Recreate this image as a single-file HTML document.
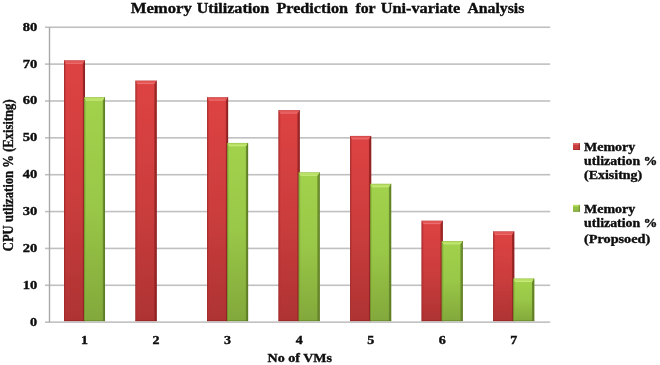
<!DOCTYPE html>
<html><head><meta charset="utf-8"><title>Memory Utilization Prediction</title>
<style>html,body{margin:0;padding:0;background:#fff}svg{display:block}</style></head>
<body>
<svg width="660" height="365" viewBox="0 0 660 365">
<defs>
<linearGradient id="gr" x1="0" y1="0" x2="0" y2="1"><stop offset="0" stop-color="#de4343"/><stop offset="0.5" stop-color="#cc3d3d"/><stop offset="1" stop-color="#ae3333"/></linearGradient>
<linearGradient id="gg" x1="0" y1="0" x2="0" y2="1"><stop offset="0" stop-color="#a2d24d"/><stop offset="0.5" stop-color="#99c747"/><stop offset="1" stop-color="#82a83b"/></linearGradient>
<filter id="bl" x="-5%" y="-5%" width="110%" height="110%"><feGaussianBlur stdDeviation="0.45"/></filter>
<filter id="bt" x="-5%" y="-20%" width="110%" height="140%"><feGaussianBlur stdDeviation="0.3"/></filter>
</defs>
<rect width="660" height="365" fill="#fff"/>
<g filter="url(#bl)">
<rect x="45" y="321.35" width="505.20" height="1.6" fill="#c0c0c0"/>
<rect x="45" y="284.49" width="505.20" height="1.6" fill="#c0c0c0"/>
<rect x="45" y="247.62" width="505.20" height="1.6" fill="#c0c0c0"/>
<rect x="45" y="210.76" width="505.20" height="1.6" fill="#c0c0c0"/>
<rect x="45" y="173.90" width="505.20" height="1.6" fill="#c0c0c0"/>
<rect x="45" y="137.04" width="505.20" height="1.6" fill="#c0c0c0"/>
<rect x="45" y="100.18" width="505.20" height="1.6" fill="#c0c0c0"/>
<rect x="45" y="63.31" width="505.20" height="1.6" fill="#c0c0c0"/>
<rect x="45" y="26.45" width="505.20" height="1.6" fill="#c0c0c0"/>
<rect x="48.80" y="27.20" width="1.4" height="294.90" fill="#a8a8a8"/>
<rect x="64.01" y="60.38" width="21.0" height="260.72" fill="url(#gr)"/>
<polygon points="64.01,60.38 65.71,63.68 65.71,321.10 64.01,321.10" fill="#b83030" opacity="0.6"/>
<polygon points="85.01,60.38 82.81,63.68 82.81,321.10 85.01,321.10" fill="#8e2222" opacity="0.8"/>
<polygon points="64.01,60.38 85.01,60.38 82.81,63.68 65.71,63.68" fill="#ef7474" opacity="0.42"/>
<rect x="65.71" y="62.88" width="17.10" height="0.9" fill="#f58d8d" opacity="0.55"/>
<rect x="64.01" y="60.38" width="0.5" height="260.72" fill="#7e1c1c" opacity="0.7"/>
<rect x="84.41" y="60.38" width="0.6" height="260.72" fill="#7e1c1c" opacity="0.8"/>
<rect x="64.01" y="320.40" width="21.0" height="0.7" fill="#7e1c1c" opacity="0.6"/>
<rect x="64.01" y="60.38" width="21.0" height="0.5" fill="#7e1c1c" opacity="0.35"/>
<rect x="84.11" y="97.24" width="20.9" height="223.86" fill="url(#gg)"/>
<polygon points="84.11,97.24 85.81,100.54 85.81,321.10 84.11,321.10" fill="#86b23a" opacity="0.6"/>
<polygon points="105.01,97.24 102.81,100.54 102.81,321.10 105.01,321.10" fill="#5e7c25" opacity="0.8"/>
<polygon points="84.11,97.24 105.01,97.24 102.81,100.54 85.81,100.54" fill="#c6ea74" opacity="0.62"/>
<rect x="85.81" y="99.74" width="17.00" height="0.9" fill="#d6f28e" opacity="0.55"/>
<rect x="84.11" y="97.24" width="0.5" height="223.86" fill="#56721f" opacity="0.7"/>
<rect x="104.41" y="97.24" width="0.6" height="223.86" fill="#56721f" opacity="0.8"/>
<rect x="84.11" y="320.40" width="20.9" height="0.7" fill="#56721f" opacity="0.6"/>
<rect x="84.11" y="97.24" width="20.9" height="0.5" fill="#56721f" opacity="0.35"/>
<rect x="135.54" y="80.65" width="21.0" height="240.45" fill="url(#gr)"/>
<polygon points="135.54,80.65 137.24,83.95 137.24,321.10 135.54,321.10" fill="#b83030" opacity="0.6"/>
<polygon points="156.54,80.65 154.34,83.95 154.34,321.10 156.54,321.10" fill="#8e2222" opacity="0.8"/>
<polygon points="135.54,80.65 156.54,80.65 154.34,83.95 137.24,83.95" fill="#ef7474" opacity="0.42"/>
<rect x="137.24" y="83.15" width="17.10" height="0.9" fill="#f58d8d" opacity="0.55"/>
<rect x="135.54" y="80.65" width="0.5" height="240.45" fill="#7e1c1c" opacity="0.7"/>
<rect x="155.94" y="80.65" width="0.6" height="240.45" fill="#7e1c1c" opacity="0.8"/>
<rect x="135.54" y="320.40" width="21.0" height="0.7" fill="#7e1c1c" opacity="0.6"/>
<rect x="135.54" y="80.65" width="21.0" height="0.5" fill="#7e1c1c" opacity="0.35"/>
<rect x="207.07" y="97.24" width="21.0" height="223.86" fill="url(#gr)"/>
<polygon points="207.07,97.24 208.77,100.54 208.77,321.10 207.07,321.10" fill="#b83030" opacity="0.6"/>
<polygon points="228.07,97.24 225.87,100.54 225.87,321.10 228.07,321.10" fill="#8e2222" opacity="0.8"/>
<polygon points="207.07,97.24 228.07,97.24 225.87,100.54 208.77,100.54" fill="#ef7474" opacity="0.42"/>
<rect x="208.77" y="99.74" width="17.10" height="0.9" fill="#f58d8d" opacity="0.55"/>
<rect x="207.07" y="97.24" width="0.5" height="223.86" fill="#7e1c1c" opacity="0.7"/>
<rect x="227.47" y="97.24" width="0.6" height="223.86" fill="#7e1c1c" opacity="0.8"/>
<rect x="207.07" y="320.40" width="21.0" height="0.7" fill="#7e1c1c" opacity="0.6"/>
<rect x="207.07" y="97.24" width="21.0" height="0.5" fill="#7e1c1c" opacity="0.35"/>
<rect x="227.17" y="142.95" width="20.9" height="178.15" fill="url(#gg)"/>
<polygon points="227.17,142.95 228.87,146.25 228.87,321.10 227.17,321.10" fill="#86b23a" opacity="0.6"/>
<polygon points="248.07,142.95 245.87,146.25 245.87,321.10 248.07,321.10" fill="#5e7c25" opacity="0.8"/>
<polygon points="227.17,142.95 248.07,142.95 245.87,146.25 228.87,146.25" fill="#c6ea74" opacity="0.62"/>
<rect x="228.87" y="145.45" width="17.00" height="0.9" fill="#d6f28e" opacity="0.55"/>
<rect x="227.17" y="142.95" width="0.5" height="178.15" fill="#56721f" opacity="0.7"/>
<rect x="247.47" y="142.95" width="0.6" height="178.15" fill="#56721f" opacity="0.8"/>
<rect x="227.17" y="320.40" width="20.9" height="0.7" fill="#56721f" opacity="0.6"/>
<rect x="227.17" y="142.95" width="20.9" height="0.5" fill="#56721f" opacity="0.35"/>
<rect x="278.60" y="110.14" width="21.0" height="210.96" fill="url(#gr)"/>
<polygon points="278.60,110.14 280.30,113.44 280.30,321.10 278.60,321.10" fill="#b83030" opacity="0.6"/>
<polygon points="299.60,110.14 297.40,113.44 297.40,321.10 299.60,321.10" fill="#8e2222" opacity="0.8"/>
<polygon points="278.60,110.14 299.60,110.14 297.40,113.44 280.30,113.44" fill="#ef7474" opacity="0.42"/>
<rect x="280.30" y="112.64" width="17.10" height="0.9" fill="#f58d8d" opacity="0.55"/>
<rect x="278.60" y="110.14" width="0.5" height="210.96" fill="#7e1c1c" opacity="0.7"/>
<rect x="299.00" y="110.14" width="0.6" height="210.96" fill="#7e1c1c" opacity="0.8"/>
<rect x="278.60" y="320.40" width="21.0" height="0.7" fill="#7e1c1c" opacity="0.6"/>
<rect x="278.60" y="110.14" width="21.0" height="0.5" fill="#7e1c1c" opacity="0.35"/>
<rect x="298.70" y="172.44" width="20.9" height="148.66" fill="url(#gg)"/>
<polygon points="298.70,172.44 300.40,175.74 300.40,321.10 298.70,321.10" fill="#86b23a" opacity="0.6"/>
<polygon points="319.60,172.44 317.40,175.74 317.40,321.10 319.60,321.10" fill="#5e7c25" opacity="0.8"/>
<polygon points="298.70,172.44 319.60,172.44 317.40,175.74 300.40,175.74" fill="#c6ea74" opacity="0.62"/>
<rect x="300.40" y="174.94" width="17.00" height="0.9" fill="#d6f28e" opacity="0.55"/>
<rect x="298.70" y="172.44" width="0.5" height="148.66" fill="#56721f" opacity="0.7"/>
<rect x="319.00" y="172.44" width="0.6" height="148.66" fill="#56721f" opacity="0.8"/>
<rect x="298.70" y="320.40" width="20.9" height="0.7" fill="#56721f" opacity="0.6"/>
<rect x="298.70" y="172.44" width="20.9" height="0.5" fill="#56721f" opacity="0.35"/>
<rect x="350.13" y="135.94" width="21.0" height="185.16" fill="url(#gr)"/>
<polygon points="350.13,135.94 351.83,139.24 351.83,321.10 350.13,321.10" fill="#b83030" opacity="0.6"/>
<polygon points="371.13,135.94 368.93,139.24 368.93,321.10 371.13,321.10" fill="#8e2222" opacity="0.8"/>
<polygon points="350.13,135.94 371.13,135.94 368.93,139.24 351.83,139.24" fill="#ef7474" opacity="0.42"/>
<rect x="351.83" y="138.44" width="17.10" height="0.9" fill="#f58d8d" opacity="0.55"/>
<rect x="350.13" y="135.94" width="0.5" height="185.16" fill="#7e1c1c" opacity="0.7"/>
<rect x="370.53" y="135.94" width="0.6" height="185.16" fill="#7e1c1c" opacity="0.8"/>
<rect x="350.13" y="320.40" width="21.0" height="0.7" fill="#7e1c1c" opacity="0.6"/>
<rect x="350.13" y="135.94" width="21.0" height="0.5" fill="#7e1c1c" opacity="0.35"/>
<rect x="370.23" y="183.87" width="20.9" height="137.23" fill="url(#gg)"/>
<polygon points="370.23,183.87 371.93,187.17 371.93,321.10 370.23,321.10" fill="#86b23a" opacity="0.6"/>
<polygon points="391.13,183.87 388.93,187.17 388.93,321.10 391.13,321.10" fill="#5e7c25" opacity="0.8"/>
<polygon points="370.23,183.87 391.13,183.87 388.93,187.17 371.93,187.17" fill="#c6ea74" opacity="0.62"/>
<rect x="371.93" y="186.37" width="17.00" height="0.9" fill="#d6f28e" opacity="0.55"/>
<rect x="370.23" y="183.87" width="0.5" height="137.23" fill="#56721f" opacity="0.7"/>
<rect x="390.53" y="183.87" width="0.6" height="137.23" fill="#56721f" opacity="0.8"/>
<rect x="370.23" y="320.40" width="20.9" height="0.7" fill="#56721f" opacity="0.6"/>
<rect x="370.23" y="183.87" width="20.9" height="0.5" fill="#56721f" opacity="0.35"/>
<rect x="421.66" y="220.73" width="21.0" height="100.37" fill="url(#gr)"/>
<polygon points="421.66,220.73 423.36,224.03 423.36,321.10 421.66,321.10" fill="#b83030" opacity="0.6"/>
<polygon points="442.66,220.73 440.46,224.03 440.46,321.10 442.66,321.10" fill="#8e2222" opacity="0.8"/>
<polygon points="421.66,220.73 442.66,220.73 440.46,224.03 423.36,224.03" fill="#ef7474" opacity="0.42"/>
<rect x="423.36" y="223.23" width="17.10" height="0.9" fill="#f58d8d" opacity="0.55"/>
<rect x="421.66" y="220.73" width="0.5" height="100.37" fill="#7e1c1c" opacity="0.7"/>
<rect x="442.06" y="220.73" width="0.6" height="100.37" fill="#7e1c1c" opacity="0.8"/>
<rect x="421.66" y="320.40" width="21.0" height="0.7" fill="#7e1c1c" opacity="0.6"/>
<rect x="421.66" y="220.73" width="21.0" height="0.5" fill="#7e1c1c" opacity="0.35"/>
<rect x="441.76" y="241.00" width="20.9" height="80.10" fill="url(#gg)"/>
<polygon points="441.76,241.00 443.46,244.30 443.46,321.10 441.76,321.10" fill="#86b23a" opacity="0.6"/>
<polygon points="462.66,241.00 460.46,244.30 460.46,321.10 462.66,321.10" fill="#5e7c25" opacity="0.8"/>
<polygon points="441.76,241.00 462.66,241.00 460.46,244.30 443.46,244.30" fill="#c6ea74" opacity="0.62"/>
<rect x="443.46" y="243.50" width="17.00" height="0.9" fill="#d6f28e" opacity="0.55"/>
<rect x="441.76" y="241.00" width="0.5" height="80.10" fill="#56721f" opacity="0.7"/>
<rect x="462.06" y="241.00" width="0.6" height="80.10" fill="#56721f" opacity="0.8"/>
<rect x="441.76" y="320.40" width="20.9" height="0.7" fill="#56721f" opacity="0.6"/>
<rect x="441.76" y="241.00" width="20.9" height="0.5" fill="#56721f" opacity="0.35"/>
<rect x="493.19" y="231.42" width="21.0" height="89.68" fill="url(#gr)"/>
<polygon points="493.19,231.42 494.89,234.72 494.89,321.10 493.19,321.10" fill="#b83030" opacity="0.6"/>
<polygon points="514.19,231.42 511.99,234.72 511.99,321.10 514.19,321.10" fill="#8e2222" opacity="0.8"/>
<polygon points="493.19,231.42 514.19,231.42 511.99,234.72 494.89,234.72" fill="#ef7474" opacity="0.42"/>
<rect x="494.89" y="233.92" width="17.10" height="0.9" fill="#f58d8d" opacity="0.55"/>
<rect x="493.19" y="231.42" width="0.5" height="89.68" fill="#7e1c1c" opacity="0.7"/>
<rect x="513.59" y="231.42" width="0.6" height="89.68" fill="#7e1c1c" opacity="0.8"/>
<rect x="493.19" y="320.40" width="21.0" height="0.7" fill="#7e1c1c" opacity="0.6"/>
<rect x="493.19" y="231.42" width="21.0" height="0.5" fill="#7e1c1c" opacity="0.35"/>
<rect x="513.29" y="278.60" width="20.9" height="42.50" fill="url(#gg)"/>
<polygon points="513.29,278.60 514.99,281.90 514.99,321.10 513.29,321.10" fill="#86b23a" opacity="0.6"/>
<polygon points="534.19,278.60 531.99,281.90 531.99,321.10 534.19,321.10" fill="#5e7c25" opacity="0.8"/>
<polygon points="513.29,278.60 534.19,278.60 531.99,281.90 514.99,281.90" fill="#c6ea74" opacity="0.62"/>
<rect x="514.99" y="281.10" width="17.00" height="0.9" fill="#d6f28e" opacity="0.55"/>
<rect x="513.29" y="278.60" width="0.5" height="42.50" fill="#56721f" opacity="0.7"/>
<rect x="533.59" y="278.60" width="0.6" height="42.50" fill="#56721f" opacity="0.8"/>
<rect x="513.29" y="320.40" width="20.9" height="0.7" fill="#56721f" opacity="0.6"/>
<rect x="513.29" y="278.60" width="20.9" height="0.5" fill="#56721f" opacity="0.35"/>
</g>
<g style="font-family:'Liberation Serif','Times New Roman',serif;font-weight:bold;fill:#0a0a0a;stroke:#0a0a0a;stroke-width:0.32" filter="url(#bt)">
<text y="12.55" font-size="14.2"><tspan x="130.70" textLength="61.20" lengthAdjust="spacingAndGlyphs">Memory</tspan> <tspan x="196.70" textLength="72.60" lengthAdjust="spacingAndGlyphs">Utilization</tspan> <tspan x="276.40" textLength="71.60" lengthAdjust="spacingAndGlyphs">Prediction</tspan> <tspan x="355.40" textLength="19.90" lengthAdjust="spacingAndGlyphs">for</tspan> <tspan x="380.70" textLength="79.60" lengthAdjust="spacingAndGlyphs">Uni-variate</tspan> <tspan x="467.40" textLength="56.90" lengthAdjust="spacingAndGlyphs">Analysis</tspan></text>
<text x="30.10" y="325.65" font-size="11.6" textLength="7.10" lengthAdjust="spacingAndGlyphs">0</text>
<text x="22.70" y="288.79" font-size="11.6" textLength="14.50" lengthAdjust="spacingAndGlyphs">10</text>
<text x="22.70" y="251.93" font-size="11.6" textLength="14.50" lengthAdjust="spacingAndGlyphs">20</text>
<text x="22.70" y="215.06" font-size="11.6" textLength="14.50" lengthAdjust="spacingAndGlyphs">30</text>
<text x="22.70" y="178.20" font-size="11.6" textLength="14.50" lengthAdjust="spacingAndGlyphs">40</text>
<text x="22.70" y="141.34" font-size="11.6" textLength="14.50" lengthAdjust="spacingAndGlyphs">50</text>
<text x="22.70" y="104.48" font-size="11.6" textLength="14.50" lengthAdjust="spacingAndGlyphs">60</text>
<text x="22.70" y="67.61" font-size="11.6" textLength="14.50" lengthAdjust="spacingAndGlyphs">70</text>
<text x="22.70" y="30.75" font-size="11.6" textLength="14.50" lengthAdjust="spacingAndGlyphs">80</text>
<text x="81.06" y="344.20" font-size="11.6" textLength="7.00" lengthAdjust="spacingAndGlyphs">1</text>
<text x="152.59" y="344.20" font-size="11.6" textLength="7.00" lengthAdjust="spacingAndGlyphs">2</text>
<text x="224.12" y="344.20" font-size="11.6" textLength="7.00" lengthAdjust="spacingAndGlyphs">3</text>
<text x="295.65" y="344.20" font-size="11.6" textLength="7.00" lengthAdjust="spacingAndGlyphs">4</text>
<text x="367.18" y="344.20" font-size="11.6" textLength="7.00" lengthAdjust="spacingAndGlyphs">5</text>
<text x="438.71" y="344.20" font-size="11.6" textLength="7.00" lengthAdjust="spacingAndGlyphs">6</text>
<text x="510.24" y="344.20" font-size="11.6" textLength="7.00" lengthAdjust="spacingAndGlyphs">7</text>
<text x="267.60" y="362.00" font-size="11.8" textLength="64.40" lengthAdjust="spacingAndGlyphs">No of VMs</text>
<text transform="translate(13.2,251.2) rotate(-90)" font-size="14.2" textLength="151.8" lengthAdjust="spacingAndGlyphs">CPU utlization % (Exisitng)</text>
<text x="584.00" y="150.60" font-size="11.7" textLength="51.20" lengthAdjust="spacingAndGlyphs">Memory</text>
<text x="584.00" y="165.40" font-size="11.7" textLength="73.40" lengthAdjust="spacingAndGlyphs">utlization %</text>
<text x="584.00" y="179.40" font-size="11.7" textLength="58.20" lengthAdjust="spacingAndGlyphs">(Exisitng)</text>
<text x="584.00" y="212.50" font-size="11.7" textLength="51.20" lengthAdjust="spacingAndGlyphs">Memory</text>
<text x="584.00" y="227.30" font-size="11.7" textLength="73.40" lengthAdjust="spacingAndGlyphs">utlization %</text>
<text x="584.00" y="242.60" font-size="11.7" textLength="66.20" lengthAdjust="spacingAndGlyphs">(Propsoed)</text>
</g>
<g filter="url(#bl)">
<rect x="573" y="143.2" width="7" height="6.8" fill="#c83c3c"/>
<rect x="573" y="143.2" width="7" height="1.6" fill="#e77070" opacity="0.7"/>
<rect x="578.8" y="143.2" width="1.2" height="6.8" fill="#8e2222" opacity="0.6"/>
<rect x="573" y="149.0" width="7" height="1" fill="#8e2222" opacity="0.5"/>
<rect x="573" y="204.9" width="7" height="6.8" fill="#93c043"/>
<rect x="573" y="204.9" width="7" height="1.6" fill="#c6ea74" opacity="0.7"/>
<rect x="578.8" y="204.9" width="1.2" height="6.8" fill="#5e7c25" opacity="0.6"/>
<rect x="573" y="210.70000000000002" width="7" height="1" fill="#5e7c25" opacity="0.5"/>
</g>
</svg>
</body></html>
